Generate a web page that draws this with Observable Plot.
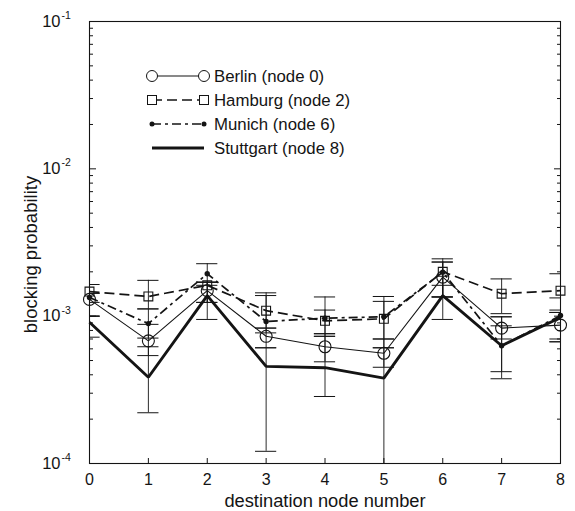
<!DOCTYPE html>
<html><head><meta charset="utf-8">
<script src="https://cdn.jsdelivr.net/npm/d3@7"></script>
<script src="https://cdn.jsdelivr.net/npm/@observablehq/plot@0.6"></script>
<style>
body{margin:0;background:#fff;}
#chart{position:relative;width:575px;height:511px;}
</style>
</head><body><div id="chart"></div>
<script>
// ---- data ----
const nodes = [0, 1, 2, 3, 4, 5, 6, 7, 8];
const seriesNames = ["Berlin (node 0)", "Hamburg (node 2)", "Munich (node 6)", "Stuttgart (node 8)"];

const berlin    = [1.30e-3, 0.68e-3, 1.49e-3, 0.73e-3, 0.62e-3, 0.56e-3, 1.84e-3, 0.83e-3, 0.87e-3];
const berlinLo  = [1.00e-3, 0.54e-3, 1.24e-3, 0.61e-3, 0.49e-3, 0.45e-3, 1.35e-3, 0.70e-3, 0.67e-3];
const berlinHi  = [1.43e-3, 0.88e-3, 1.70e-3, 0.83e-3, 0.76e-3, 0.70e-3, 2.33e-3, 0.99e-3, 1.06e-3];

const hamburg   = [1.47e-3, 1.36e-3, 1.62e-3, 1.09e-3, 0.93e-3, 0.96e-3, 2.00e-3, 1.42e-3, 1.49e-3];
const hamburgLo = [1.24e-3, 1.12e-3, 1.24e-3, 0.83e-3, 0.73e-3, 0.70e-3, 1.35e-3, 1.04e-3, 1.10e-3];
const hamburgHi = [1.64e-3, 1.75e-3, 1.70e-3, 1.44e-3, 1.35e-3, 1.36e-3, 2.45e-3, 1.79e-3, 1.94e-3];

const munich    = [1.34e-3, 0.89e-3, 1.94e-3, 0.92e-3, 0.97e-3, 0.99e-3, 1.99e-3, 0.63e-3, 1.01e-3];
const munichLo  = [1.00e-3, 0.71e-3, 1.62e-3, 0.77e-3, 0.76e-3, 0.61e-3, 1.35e-3, 0.42e-3, 0.70e-3];
const munichHi  = [1.43e-3, 1.12e-3, 2.27e-3, 1.38e-3, 1.10e-3, 1.26e-3, 2.33e-3, 0.86e-3, 1.33e-3];

const stuttgart   = [0.91e-3, 0.385e-3, 1.38e-3, 0.456e-3, 0.447e-3, 0.38e-3, 1.38e-3, 0.63e-3, 0.98e-3];
const stuttgartLo = [0.72e-3, 0.221e-3, 0.95e-3, 0.121e-3, 0.285e-3, 0.09e-3, 0.95e-3, 0.376e-3, 0.67e-3];
const stuttgartHi = [1.00e-3, 0.62e-3, 1.70e-3, 0.61e-3, 0.73e-3, 0.61e-3, 1.62e-3, 0.99e-3, 1.06e-3];

const yTicks = [1e-4, 1e-3, 1e-2, 1e-1];
const yTickExp = ["-4", "-3", "-2", "-1"];
const xTicks = [0, 1, 2, 3, 4, 5, 6, 7, 8];
const xLabel = "destination node number";
const yLabel = "blocking probability";

// ---- build table ----
const seriesVals = [berlin, hamburg, munich, stuttgart];
const seriesLo = [berlinLo, hamburgLo, munichLo, stuttgartLo];
const seriesHi = [berlinHi, hamburgHi, munichHi, stuttgartHi];
const rows = [];
seriesNames.forEach((s, i) => nodes.forEach((n, j) => rows.push({
  series: s, x: n, y: seriesVals[i][j], lo: seriesLo[i][j], hi: seriesHi[i][j]
})));
const bySeries = s => rows.filter(d => d.series === s);

const minor = [];
for (let e = -4; e < -1; e++) for (let m = 2; m <= 9; m++) minor.push(m * Math.pow(10, e));

const FONT = "Liberation Sans, Arial, Helvetica, sans-serif";
const INK = "#141414";
const styles = [
  {width: 1.1, dash: null},
  {width: 1.7, dash: "10,5"},
  {width: 1.7, dash: "9,4,3,4"},
  {width: 2.9, dash: null}
];
const capHalf = 0.18;

const marks = [
  // error bars
  Plot.ruleX(rows, {x: "x", y1: "lo", y2: "hi", stroke: INK, strokeWidth: 0.9, clip: true}),
  Plot.ruleY(rows, {y: "lo", x1: d => d.x - capHalf, x2: d => d.x + capHalf, stroke: INK, strokeWidth: 1, clip: true}),
  Plot.ruleY(rows, {y: "hi", x1: d => d.x - capHalf, x2: d => d.x + capHalf, stroke: INK, strokeWidth: 1, clip: true}),
  // lines
  ...seriesNames.map((s, i) => Plot.line(bySeries(s), {
    x: "x", y: "y", stroke: INK, strokeWidth: styles[i].width,
    strokeDasharray: styles[i].dash, strokeLinejoin: "miter", strokeLinecap: "butt"
  })),
  // markers
  Plot.dot(bySeries(seriesNames[0]), {x: "x", y: "y", r: 6, stroke: INK, strokeWidth: 1.1, fill: "none"}),
  Plot.dot(bySeries(seriesNames[1]), {x: "x", y: "y", symbol: "square", r: 5, stroke: INK, strokeWidth: 1.1, fill: "none"}),
  Plot.dot(bySeries(seriesNames[2]), {x: "x", y: "y", r: 2.7, fill: INK, stroke: "none"}),
  // frame and inward ticks
  Plot.frame({stroke: INK, strokeWidth: 1.1}),
  Plot.axisY({ticks: yTicks, anchor: "left", tickSize: -7, tickFormat: () => "", label: null, stroke: INK}),
  Plot.axisY({ticks: yTicks, anchor: "right", tickSize: -7, tickFormat: () => "", label: null, stroke: INK}),
  Plot.axisY({ticks: minor, anchor: "left", tickSize: -4, tickFormat: () => "", label: null, stroke: INK}),
  Plot.axisY({ticks: minor, anchor: "right", tickSize: -4, tickFormat: () => "", label: null, stroke: INK}),
  Plot.axisX({ticks: xTicks, anchor: "bottom", tickSize: -5, tickFormat: () => "", label: null, stroke: INK}),
  // tick labels
  Plot.text(yTicks, {y: d => d, text: () => "10", frameAnchor: "left", dx: -29, textAnchor: "end", lineAnchor: "middle", fontSize: 16.5, fill: INK}),
  Plot.text(yTicks, {y: d => d, text: (d, i) => yTickExp[i], frameAnchor: "left", dx: -28, dy: -6, textAnchor: "start", lineAnchor: "middle", fontSize: 10.5, fill: INK}),
  Plot.text(xTicks, {x: d => d, text: d => String(d), frameAnchor: "bottom", dy: 16.5, lineAnchor: "middle", fontSize: 16, fill: INK}),
  // axis titles
  Plot.text([xLabel], {text: d => d, frameAnchor: "bottom", dy: 38, lineAnchor: "middle", fontSize: 18.3, fill: INK}),
  Plot.text([yLabel], {text: d => d, frameAnchor: "left", dx: -58, dy: 12, rotate: -90, textAnchor: "middle", lineAnchor: "middle", fontSize: 18.5, fill: INK})
];

const chart = Plot.plot({
  width: 575, height: 511,
  marginLeft: 89, marginRight: 15, marginTop: 21, marginBottom: 48,
  style: {fontFamily: FONT, background: "#fff", overflow: "visible"},
  x: {domain: [0, 8]},
  y: {type: "log", domain: [1e-4, 1e-1]},
  marks
});
document.getElementById("chart").appendChild(chart);

// ---- legend inside plot area ----
const svg = d3.select(chart);
const lg = svg.append("g").attr("font-family", FONT).attr("font-size", 16.8)
  .attr("fill", INK).attr("text-anchor", "start");
const lx1 = 152, lx2 = 204, ltx = 214, ly0 = 76, ldy = 24;
seriesNames.forEach((s, i) => {
  const y = ly0 + i * ldy;
  lg.append("line").attr("x1", lx1).attr("x2", lx2).attr("y1", y).attr("y2", y)
    .attr("stroke", INK).attr("stroke-width", styles[i].width)
    .attr("stroke-dasharray", styles[i].dash);
  [lx1, lx2].forEach(cx => {
    if (i === 0) lg.append("circle").attr("cx", cx).attr("cy", y).attr("r", 5.5).attr("fill", "#fff").attr("stroke", INK);
    if (i === 1) lg.append("rect").attr("x", cx - 4.5).attr("y", y - 4.5).attr("width", 9).attr("height", 9).attr("fill", "#fff").attr("stroke", INK);
    if (i === 2) lg.append("circle").attr("cx", cx).attr("cy", y).attr("r", 2.5).attr("fill", INK);
  });
  lg.append("text").attr("x", ltx).attr("y", y).attr("dy", "0.35em").attr("text-anchor", "start").text(s);
});
</script>
</body></html>
